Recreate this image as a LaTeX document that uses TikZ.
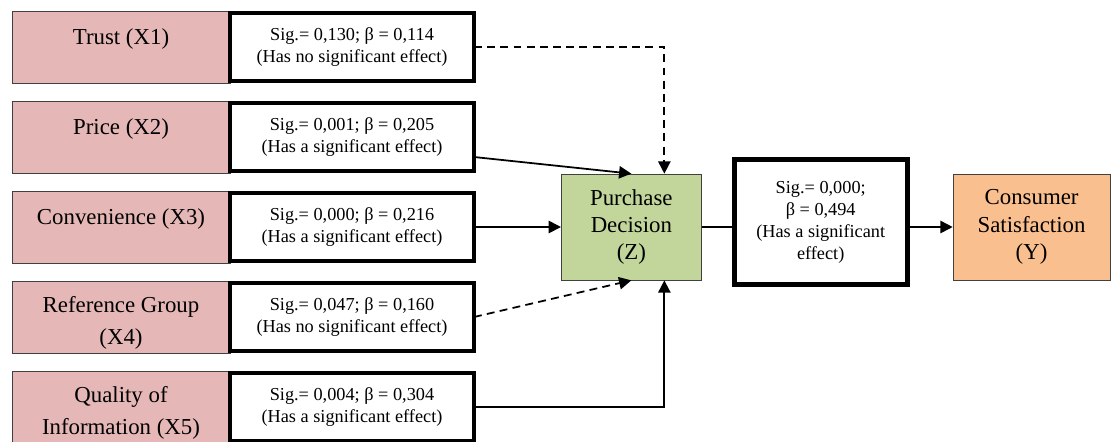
\documentclass[tikz,border=0pt]{standalone}
\usepackage{fontspec}
\setmainfont{Liberation Serif}
\usetikzlibrary{positioning,arrows.meta,calc}
\definecolor{factorpink}{RGB}{229,184,183}
\definecolor{decisiongreen}{RGB}{194,214,155}
\definecolor{satisorange}{RGB}{250,191,143}
\newcommand{\factorstrut}{\rule{0pt}{16pt}}
\begin{document}
\begin{tikzpicture}[
	node distance=1.8cm,
	factor/.style={draw=black!75,fill=factorpink,outer sep=0pt,inner ysep=0pt,minimum width=4.36cm,minimum height=1.44cm,align=center,font=\fontsize{13}{18}\selectfont},
	sigbox/.style={draw,line width=2.8pt,fill=white,outer sep=0pt,minimum width=4.88cm,minimum height=1.36cm,align=center,font=\fontsize{10.4}{12}\selectfont},
	varbox/.style={draw=black!75,minimum height=2.12cm,align=center,font=\fontsize{13}{15.6}\selectfont},
	link/.style={line width=1pt,-{Triangle[length=7pt,width=7pt]}},
	nolink/.style={link,dash pattern=on 4.5pt off 3pt}
	]
	\useasboundingbox (0,0) rectangle (22.22,-8.82);
	
	\node[factor] (trust) at (2.42,-0.94) {\factorstrut Trust (X1)\\[1pt]\mbox{}};
	\node[factor,below of=trust] (price) {\factorstrut Price (X2)\\[1pt]\mbox{}};
	\node[factor,below of=price] (conv) {\factorstrut Convenience (X3)\\[1pt]\mbox{}};
	\node[factor,below of=conv] (refgroup) {\factorstrut Reference Group\\(X4)};
	\node[factor,below of=refgroup] (quality) {\factorstrut Quality of\\Information (X5)};
	
	\node[sigbox,right=0pt of trust] (sigtrust) {Sig.= 0,130; β = 0,114\\(Has no significant effect)};
	\node[sigbox,right=0pt of price] (sigprice) {Sig.= 0,001; β = 0,205\\(Has a significant effect)};
	\node[sigbox,right=0pt of conv] (sigconv) {Sig.= 0,000; β = 0,216\\(Has a significant effect)};
	\node[sigbox,right=0pt of refgroup] (sigref) {Sig.= 0,047; β = 0,160\\(Has no significant effect)};
	\node[sigbox,right=0pt of quality] (sigqual) {Sig.= 0,004; β = 0,304\\(Has a significant effect)};
	
	\node[varbox,fill=decisiongreen,minimum width=2.8cm,right=1.74cm of sigconv] (decision) {Purchase\\Decision\\(Z)};
	\node[sigbox,minimum width=3.46cm,minimum height=2.5cm,font=\fontsize{10.4}{12.5}\selectfont,right=0.65cm of decision,yshift=0.1cm] (sigdec) {Sig.= 0,000;\\β = 0,494\\(Has a significant\\effect)};
	\node[varbox,fill=satisorange,minimum width=3.14cm,right=0.91cm of sigdec,yshift=-0.1cm] (satisfaction) {Consumer\\Satisfaction\\(Y)};
	
	% paths into purchase decision
	\draw[nolink] (sigtrust.east) -| ($(decision.north)+(0.66,0)$);
	\draw[link] ([yshift=-0.4cm]sigprice.east) -- (decision.north);
	\draw[link] (sigconv.east) -- (decision.west);
	\draw[nolink] (sigref.east) -- (decision.south);
	\draw[link] (sigqual.east) -| ($(decision.south)+(0.66,0)$);
	
	% purchase decision to satisfaction
	\draw[line width=1pt] (decision.east) -- (decision.east -| sigdec.west);
	\draw[link] (satisfaction.west -| sigdec.east) -- (satisfaction.west);
\end{tikzpicture}
\end{document}
